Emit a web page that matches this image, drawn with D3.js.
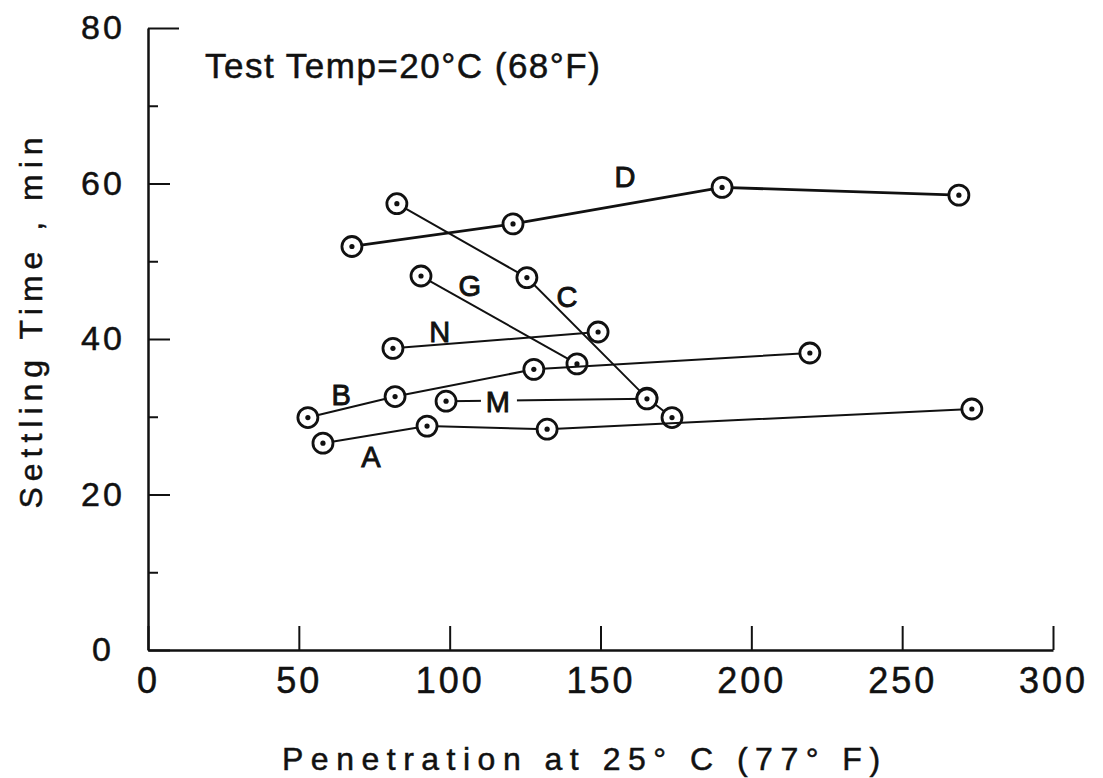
<!DOCTYPE html>
<meta charset="utf-8">
<style>
	body { margin: 0; background: #fff; }
	svg text { font-family: "Liberation Sans", Arial, sans-serif; fill: #111; stroke: #111; stroke-width: 0.5px; }
	.axis path, .axis line { stroke: #111; }
	.axis text { letter-spacing: 3px; }
</style>
<svg width="1103" height="778"></svg>
<script src="https://d3js.org/d3.v7.min.js"></script>
<script>
	// values: penetration (x) and settling time (y)
	var seriesNames = ['D', 'C', 'G', 'N', 'B', 'M', 'A']
	var penD = [67.6, 121.0, 190.3, 268.8], timeD = [51.9, 54.8, 59.5, 58.5]
	var penC = [82.5, 125.6, 165.4, 173.7], timeC = [57.4, 47.9, 32.4, 29.9]
	var penG = [90.5, 142.2], timeG = [48.1, 36.8]
	var penN = [81.2, 149.2], timeN = [38.8, 40.9]
	var penB = [53.0, 81.9, 127.9, 219.4], timeB = [29.9, 32.6, 36.1, 38.2]
	var penM = [98.8, 165.4], timeM = [32.0, 32.3]
	var penA = [58.0, 92.5, 132.3, 273.1], timeA = [26.6, 28.8, 28.4, 31.0]

	var xTicks = [0, 50, 100, 150, 200, 250, 300]
	var yTicks = [0, 20, 40, 60, 80]
	var yMinor = [10, 30, 50, 70]

	// where the letter of each curve sits (data units)
	var labelPen = [158.1, 138.9, 106.7, 96.7, 64.0, 116.0, 73.9]
	var labelTime = [60.9, 45.5, 46.9, 40.9, 32.9, 32.0, 24.9]

	var pens = [penD, penC, penG, penN, penB, penM, penA],
		times = [timeD, timeC, timeG, timeN, timeB, timeM, timeA]

	var series = seriesNames.map(function (name, i) {
		return {
			name: name,
			points: pens[i].map(function (p, j) { return { x: p, y: times[i][j] } })
		}
	})

	var svg = d3.select('svg'),
		margin = { top: 28, right: 50, bottom: 128, left: 148 },
		width = +svg.attr('width') - margin.left - margin.right,
		height = +svg.attr('height') - margin.top - margin.bottom,
		g = svg.append('g').attr('transform', 'translate(' + margin.left + ',' + margin.top + ')')

	var x = d3.scaleLinear().domain([0, 300]).range([0, width]),
		y = d3.scaleLinear().domain([0, 80]).range([height, 0])

	// axes, ticks pointing inward
	g.append('g')
		.attr('class', 'axis axis--x')
		.attr('transform', 'translate(0,' + height + ')')
		.call(d3.axisBottom(x).tickValues(xTicks).tickSizeInner(-24).tickSizeOuter(0).tickPadding(17))
		.call(function (a) {
			a.select('.domain').attr('stroke-width', 2.5)
			a.selectAll('line').attr('stroke-width', 2)
			a.selectAll('text').style('font-size', '36px')
		})

	g.append('g')
		.attr('class', 'axis axis--y')
		.call(d3.axisLeft(y).tickValues(yTicks).tickSizeInner(-22).tickSizeOuter(0).tickPadding(20))
		.call(function (a) {
			a.select('.domain').attr('stroke-width', 2.5)
			a.selectAll('line').attr('stroke-width', 2)
			a.selectAll('text').style('font-size', '34px').attr('text-anchor', 'middle').attr('x', -45)
			a.selectAll('.tick').filter(function (d) { return d === 80 }).select('line').attr('x2', 31)
		})

	g.append('g')
		.attr('class', 'axis axis--y-minor')
		.call(d3.axisLeft(y).tickValues(yMinor).tickSizeInner(-10).tickSizeOuter(0).tickFormat(''))
		.call(function (a) {
			a.select('.domain').remove()
			a.selectAll('line').attr('stroke-width', 2)
		})

	var line = d3.line()
		.x(function (d) { return x(d.x) })
		.y(function (d) { return y(d.y) })

	var curves = g.selectAll('.series')
		.data(series)
		.enter()
		.append('g')
		.attr('class', 'series')

	curves.append('path')
		.attr('fill', 'none')
		.attr('stroke', '#111')
		.attr('stroke-width', function (d) { return d.name === 'D' ? 2.8 : 2 })
		.attr('d', function (d) { return line(d.points) })

	// gap in M line around its letter
	var mIdx = seriesNames.indexOf('M')
	g.append('rect')
		.attr('x', x(labelPen[mIdx]) - 17)
		.attr('y', y(labelTime[mIdx]) - 10)
		.attr('width', 36)
		.attr('height', 20)
		.attr('fill', '#fff')

	var marks = curves.selectAll('.pt')
		.data(function (d) { return d.points })
		.enter()
		.append('g')
		.attr('class', 'pt')
		.attr('transform', function (d) { return 'translate(' + x(d.x) + ',' + y(d.y) + ')' })

	marks.append('circle')
		.attr('r', 10)
		.attr('fill', '#fff')
		.attr('stroke', '#111')
		.attr('stroke-width', 2.8)

	marks.append('circle')
		.attr('r', 2.6)
		.attr('fill', '#111')

	g.selectAll('.lbl')
		.data(seriesNames)
		.enter()
		.append('text')
		.attr('class', 'lbl')
		.attr('x', function (d, i) { return x(labelPen[i]) })
		.attr('y', function (d, i) { return y(labelTime[i]) })
		.attr('dy', '0.36em')
		.attr('text-anchor', 'middle')
		.style('font-size', '29px')
		.style('stroke-width', '0.9px')
		.text(function (d) { return d })

	g.append('text')
		.attr('x', 57)
		.attr('y', 50)
		.style('font-size', '35px')
		.style('letter-spacing', '1.5px')
		.text('Test Temp=20°C (68°F)')

	svg.append('text')
		.attr('x', 282)
		.attr('y', 770)
		.style('font-size', '32px')
		.style('letter-spacing', '7.5px')
		.text('Penetration at 25° C (77° F)')

	svg.append('text')
		.attr('transform', 'translate(42,' + 320 + ') rotate(-90)')
		.attr('text-anchor', 'middle')
		.style('font-size', '32px')
		.style('letter-spacing', '6px')
		.text('Settling Time , min')
</script>
